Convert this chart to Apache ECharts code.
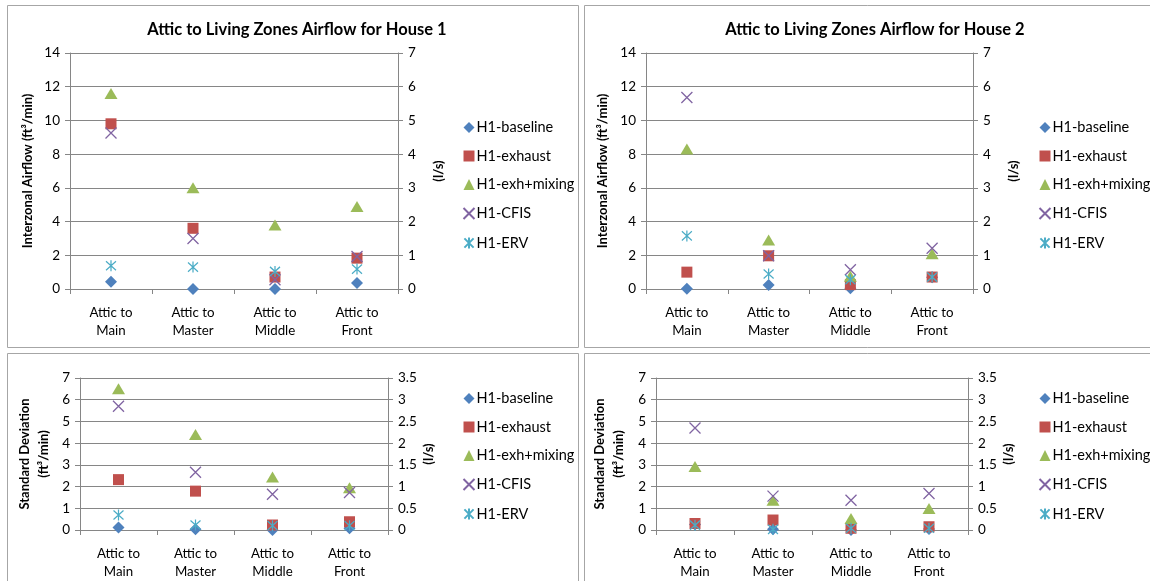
<!DOCTYPE html>
<html><head><meta charset="utf-8">
<script src="https://cdn.jsdelivr.net/npm/echarts/dist/echarts.min.js"></script>
<style>html,body{margin:0;padding:0;background:#fff;overflow:hidden}#c{width:1150px;height:581px}</style>
</head><body><div id="c"></div><script>
const categories = ['Attic to\nMain', 'Attic to\nMaster', 'Attic to\nMiddle', 'Attic to\nFront'];
const seriesNames = ['H1-baseline', 'H1-exhaust', 'H1-exh+mixing', 'H1-CFIS', 'H1-ERV'];
const titles = ['Attic to Living Zones Airflow for House 1', 'Attic to Living Zones Airflow for House 2'];

// House 1 – interzonal airflow (ft3/min)
const h1AirBaseline = [0.43, 0, 0, 0.35];
const h1AirExhaust  = [9.8, 3.6, 0.71, 1.83];
const h1AirMixing   = [11.6, 6.0, 3.8, 4.9];
const h1AirCFIS     = [9.25, 3.0, 0.55, 1.93];
const h1AirERV      = [1.38, 1.3, 1.04, 1.18];

// House 2 – interzonal airflow (ft3/min)
const h2AirBaseline = [0.02, 0.24, 0.05, 0.7];
const h2AirExhaust  = [1.0, 1.97, 0.26, 0.71];
const h2AirMixing   = [8.3, 2.9, 0.75, 2.09];
const h2AirCFIS     = [11.36, 1.97, 1.14, 2.42];
const h2AirERV      = [3.15, 0.89, 0.55, 0.71];

// House 1 – standard deviation (ft3/min)
const h1SdBaseline = [0.12, 0.03, 0.0, 0.08];
const h1SdExhaust  = [2.32, 1.79, 0.23, 0.38];
const h1SdMixing   = [6.5, 4.4, 2.44, 1.94];
const h1SdCFIS     = [5.7, 2.66, 1.65, 1.73];
const h1SdERV      = [0.69, 0.23, 0.2, 0.2];

// House 2 – standard deviation (ft3/min)
const h2SdBaseline = [0.25, 0.03, 0.0, 0.05];
const h2SdExhaust  = [0.3, 0.46, 0.08, 0.15];
const h2SdMixing   = [2.92, 1.37, 0.53, 0.99];
const h2SdCFIS     = [4.7, 1.56, 1.37, 1.68];
const h2SdERV      = [0.22, 0.03, 0.08, 0.08];

const topLeftTicks = {min: 0, max: 14, interval: 2};
const topRightTicks = {min: 0, max: 7, interval: 1};
const botLeftTicks = {min: 0, max: 7, interval: 1};
const botRightTicks = {min: 0, max: 3.5, interval: 0.5};

const panelData = [
  [h1AirBaseline, h1AirExhaust, h1AirMixing, h1AirCFIS, h1AirERV],
  [h2AirBaseline, h2AirExhaust, h2AirMixing, h2AirCFIS, h2AirERV],
  [h1SdBaseline, h1SdExhaust, h1SdMixing, h1SdCFIS, h1SdERV],
  [h2SdBaseline, h2SdExhaust, h2SdMixing, h2SdCFIS, h2SdERV]
];

const FONT = 'Lato, "Open Sans", sans-serif';
const AXC = '#868686';
const XPATH = 'path://M0 0L10 10M10 0L0 10';
const STARPATH = 'path://M0 0L10 10M10 0L0 10M5 -1L5 11';
const styles = [
  {symbol: 'diamond', symbolSize: [12, 12], itemStyle: {color: '#4F81BD', opacity: 1}},
  {symbol: 'rect', symbolSize: [11, 11], itemStyle: {color: '#C0504D', opacity: 1}},
  {symbol: 'triangle', symbolSize: [13, 11], itemStyle: {color: '#9BBB59', opacity: 1}},
  {symbol: XPATH, symbolSize: [11, 11], itemStyle: {color: 'none', borderColor: '#8064A2', borderWidth: 1.3, opacity: 1}},
  {symbol: STARPATH, symbolSize: [10, 11], itemStyle: {color: 'none', borderColor: '#4BACC6', borderWidth: 1.3, opacity: 1}}
];

const grids = [
  {left: 70, top: 53, width: 328, height: 236},
  {left: 646, top: 53, width: 327, height: 236},
  {left: 80, top: 378, width: 308, height: 153},
  {left: 656, top: 378, width: 312, height: 153}
];
const leftNames = ['Interzonal Airflow (ft³/min)', 'Interzonal Airflow (ft³/min)', 'Standard Deviation\n(ft³/min)', 'Standard Deviation\n(ft³/min)'];
const leftGaps = [33, 34, 27, 28];
const legendPos = [
  {left: 456, top: 115}, {left: 1032, top: 115}, {left: 456, top: 386}, {left: 1032, top: 386}
];

const xAxes = [], yAxes = [], series = [], legends = [];
grids.forEach((g, i) => {
  xAxes.push({
    type: 'category', gridIndex: i, data: categories, boundaryGap: true,
    axisLine: {lineStyle: {color: AXC, width: 1}},
    axisTick: {show: true, length: 5, lineStyle: {color: AXC}},
    axisLabel: {color: '#000', fontFamily: FONT, fontSize: 13.3, lineHeight: 18, margin: 15, interval: 0}
  });
  const lt = i < 2 ? topLeftTicks : botLeftTicks;
  const rt = i < 2 ? topRightTicks : botRightTicks;
  yAxes.push({
    type: 'value', gridIndex: i, position: 'left', min: lt.min, max: lt.max, interval: lt.interval,
    name: leftNames[i], nameLocation: 'middle', nameGap: leftGaps[i], nameRotate: 90,
    nameTextStyle: {color: '#000', fontFamily: FONT, fontSize: 13, fontWeight: 'bold', lineHeight: 19},
    axisLine: {show: true, lineStyle: {color: AXC}},
    axisTick: {show: true, length: 5, lineStyle: {color: AXC}},
    splitLine: {show: true, lineStyle: {color: AXC, width: 1}},
    axisLabel: {color: '#000', fontFamily: FONT, fontSize: 13.5, margin: 10}
  });
  yAxes.push({
    type: 'value', gridIndex: i, position: 'right', min: rt.min, max: rt.max, interval: rt.interval,
    name: '(l/s)', nameLocation: 'middle', nameGap: 34, nameRotate: 90,
    nameTextStyle: {color: '#000', fontFamily: FONT, fontSize: 13, fontWeight: 'bold'},
    axisLine: {show: true, lineStyle: {color: AXC}},
    axisTick: {show: true, length: 5, lineStyle: {color: AXC}},
    splitLine: {show: false},
    axisLabel: {color: '#000', fontFamily: FONT, fontSize: 13.5, margin: 10}
  });
  panelData[i].forEach((vals, k) => {
    series.push(Object.assign({
      type: 'scatter', name: seriesNames[k], xAxisIndex: i, yAxisIndex: 2 * i,
      data: vals, z: 2 + k, symbolKeepAspect: false, emphasis: {disabled: true}
    }, styles[k]));
  });
  legends.push(Object.assign({
    orient: 'vertical', itemGap: 13.5, itemWidth: 11, itemHeight: 11, selectedMode: false,
    data: seriesNames.map((n, k) => ({name: n, icon: styles[k].symbol})),
    textStyle: {color: '#000', fontFamily: FONT, fontSize: 14.5, padding: [0, 0, 0, -3]}
  }, legendPos[i]));
});

const chart = echarts.init(document.getElementById('c'), null, {renderer: 'canvas'});
chart.setOption({
  animation: false,
  backgroundColor: '#fff',
  title: [
    {text: titles[0], left: 292, top: 16, textAlign: 'center', textStyle: {fontFamily: FONT, fontSize: 16.5, fontWeight: 'bold', color: '#000'}},
    {text: titles[1], left: 870, top: 16, textAlign: 'center', textStyle: {fontFamily: FONT, fontSize: 16.5, fontWeight: 'bold', color: '#000'}}
  ],
  graphic: [
    {type: 'rect', shape: {x: 7.5, y: 5.5, width: 571, height: 342}, style: {fill: 'none', stroke: '#a6a6a6', lineWidth: 1}, silent: true},
    {type: 'rect', shape: {x: 584.5, y: 5.5, width: 600, height: 342}, style: {fill: 'none', stroke: '#a6a6a6', lineWidth: 1}, silent: true},
    {type: 'rect', shape: {x: 7.5, y: 353.5, width: 571, height: 260}, style: {fill: 'none', stroke: '#a6a6a6', lineWidth: 1}, silent: true},
    {type: 'rect', shape: {x: 584.5, y: 353.5, width: 600, height: 260}, style: {fill: 'none', stroke: '#a6a6a6', lineWidth: 1}, silent: true}
  ],
  grid: grids,
  xAxis: xAxes,
  yAxis: yAxes,
  legend: legends,
  series: series
});
</script></body></html>
